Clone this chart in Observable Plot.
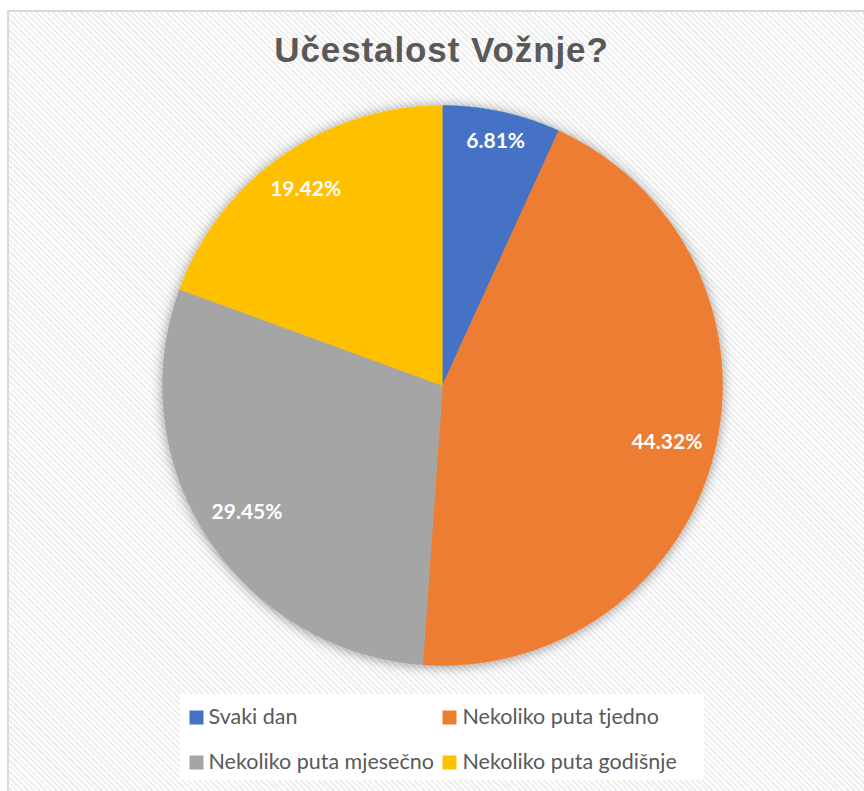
<!DOCTYPE html>
<html>
<head>
<meta charset="utf-8">
<script src="https://cdn.jsdelivr.net/npm/d3@7"></script>
<script src="https://cdn.jsdelivr.net/npm/@observablehq/plot@0.6"></script>
<style>
  html, body { margin: 0; padding: 0; background: #fff; }
  body { width: 864px; height: 791px; overflow: hidden; position: relative; }
  #bg {
    position: absolute; left: 7px; top: 10px; width: 900px; height: 820px;
    border: 2px solid #d9d9d9;
    background: repeating-linear-gradient(45deg, #ffffff 0px, #ffffff 2px, #eeeeee 2px, #eeeeee 4px);
  }
  #legendbox { position: absolute; left: 180px; top: 694px; width: 524px; height: 86px; background: #fff; }
  #title {
    position: absolute; left: 0; top: 32px; width: 883px; text-align: center;
    font-family: "Liberation Sans", Arial, sans-serif; font-weight: bold; font-size: 35px;
    line-height: 35px; letter-spacing: 0.9px; color: #595959;
  }
  #chart { position: absolute; left: 0; top: 0; }
</style>
</head>
<body>
<div id="bg"></div>
<div id="legendbox"></div>
<div id="chart"></div>
<div id="title">Učestalost Vožnje?</div>
<script>
const categories = ["Svaki dan", "Nekoliko puta tjedno", "Nekoliko puta mjesečno", "Nekoliko puta godišnje"];
const values = [6.81, 44.32, 29.45, 19.42];
const colors = ["#4472C4", "#ED7D31", "#A5A5A5", "#FFC000"];
const labels = values.map(v => v.toFixed(2) + "%");

const W = 864, H = 791;
const cx = 442, cy = 385, R = 280;

const arcs = d3.pie().sort(null).value(d => d)(values);

const slicePts = [];
const labelPts = [];
arcs.forEach((a, i) => {
  const cat = categories[i];
  const n = Math.max(2, Math.ceil((a.endAngle - a.startAngle) / (Math.PI / 720)));
  slicePts.push({x: cx, y: cy, cat});
  for (let k = 0; k <= n; k++) {
    const t = a.startAngle + (a.endAngle - a.startAngle) * k / n;
    slicePts.push({x: cx + R * Math.sin(t), y: cy - R * Math.cos(t), cat});
  }
  const mid = (a.startAngle + a.endAngle) / 2;
  const hw = labels[i].length * 5.5, hh = 10;
  const dist = R - 14 - (hw * Math.abs(Math.sin(mid)) + hh * Math.abs(Math.cos(mid)));
  labelPts.push({x: cx + dist * Math.sin(mid), y: cy - dist * Math.cos(mid), text: labels[i]});
});

const legendPts = categories.map((c, i) => {
  const col = i % 2, row = Math.floor(i / 2);
  return {cat: c, sx: 196 + col * 253, tx: 208 + col * 254, y: 717 + row * 45};
});

const plot = Plot.plot({
  width: W, height: H, margin: 0,
  style: {background: "transparent", overflow: "visible"},
  x: {domain: [0, W], range: [0, W], axis: null},
  y: {domain: [0, H], range: [0, H], axis: null},
  color: {domain: categories, range: colors},
  marks: [
    Plot.line(slicePts, {x: "x", y: "y", z: "cat", fill: "cat", stroke: "cat", strokeWidth: 0.5}),
    Plot.text(labelPts, {x: "x", y: "y", text: "text", fill: "white", fontSize: 21, fontWeight: "bold",
      fontFamily: "Lato, 'Open Sans', sans-serif"}),
    Plot.dot(legendPts, {x: "sx", y: "y", fill: "cat", symbol: "square", r: 7.9, stroke: "none"}),
    Plot.text(legendPts, {x: "tx", y: "y", text: "cat", textAnchor: "start", fill: "#595959", fontSize: 21.5,
      fontFamily: "Lato, 'Open Sans', sans-serif"})
  ]
});

const svg = d3.select(plot);
const defs = svg.insert("defs", ":first-child");
const f = defs.append("filter").attr("id", "pieShadow")
  .attr("x", "-20%").attr("y", "-20%").attr("width", "140%").attr("height", "140%");
f.append("feDropShadow").attr("dx", 0).attr("dy", 1).attr("stdDeviation", 6)
  .attr("flood-color", "#000").attr("flood-opacity", 0.4);
svg.select("g[aria-label='line']").attr("filter", "url(#pieShadow)");

document.getElementById("chart").appendChild(plot);
</script>
</body>
</html>
